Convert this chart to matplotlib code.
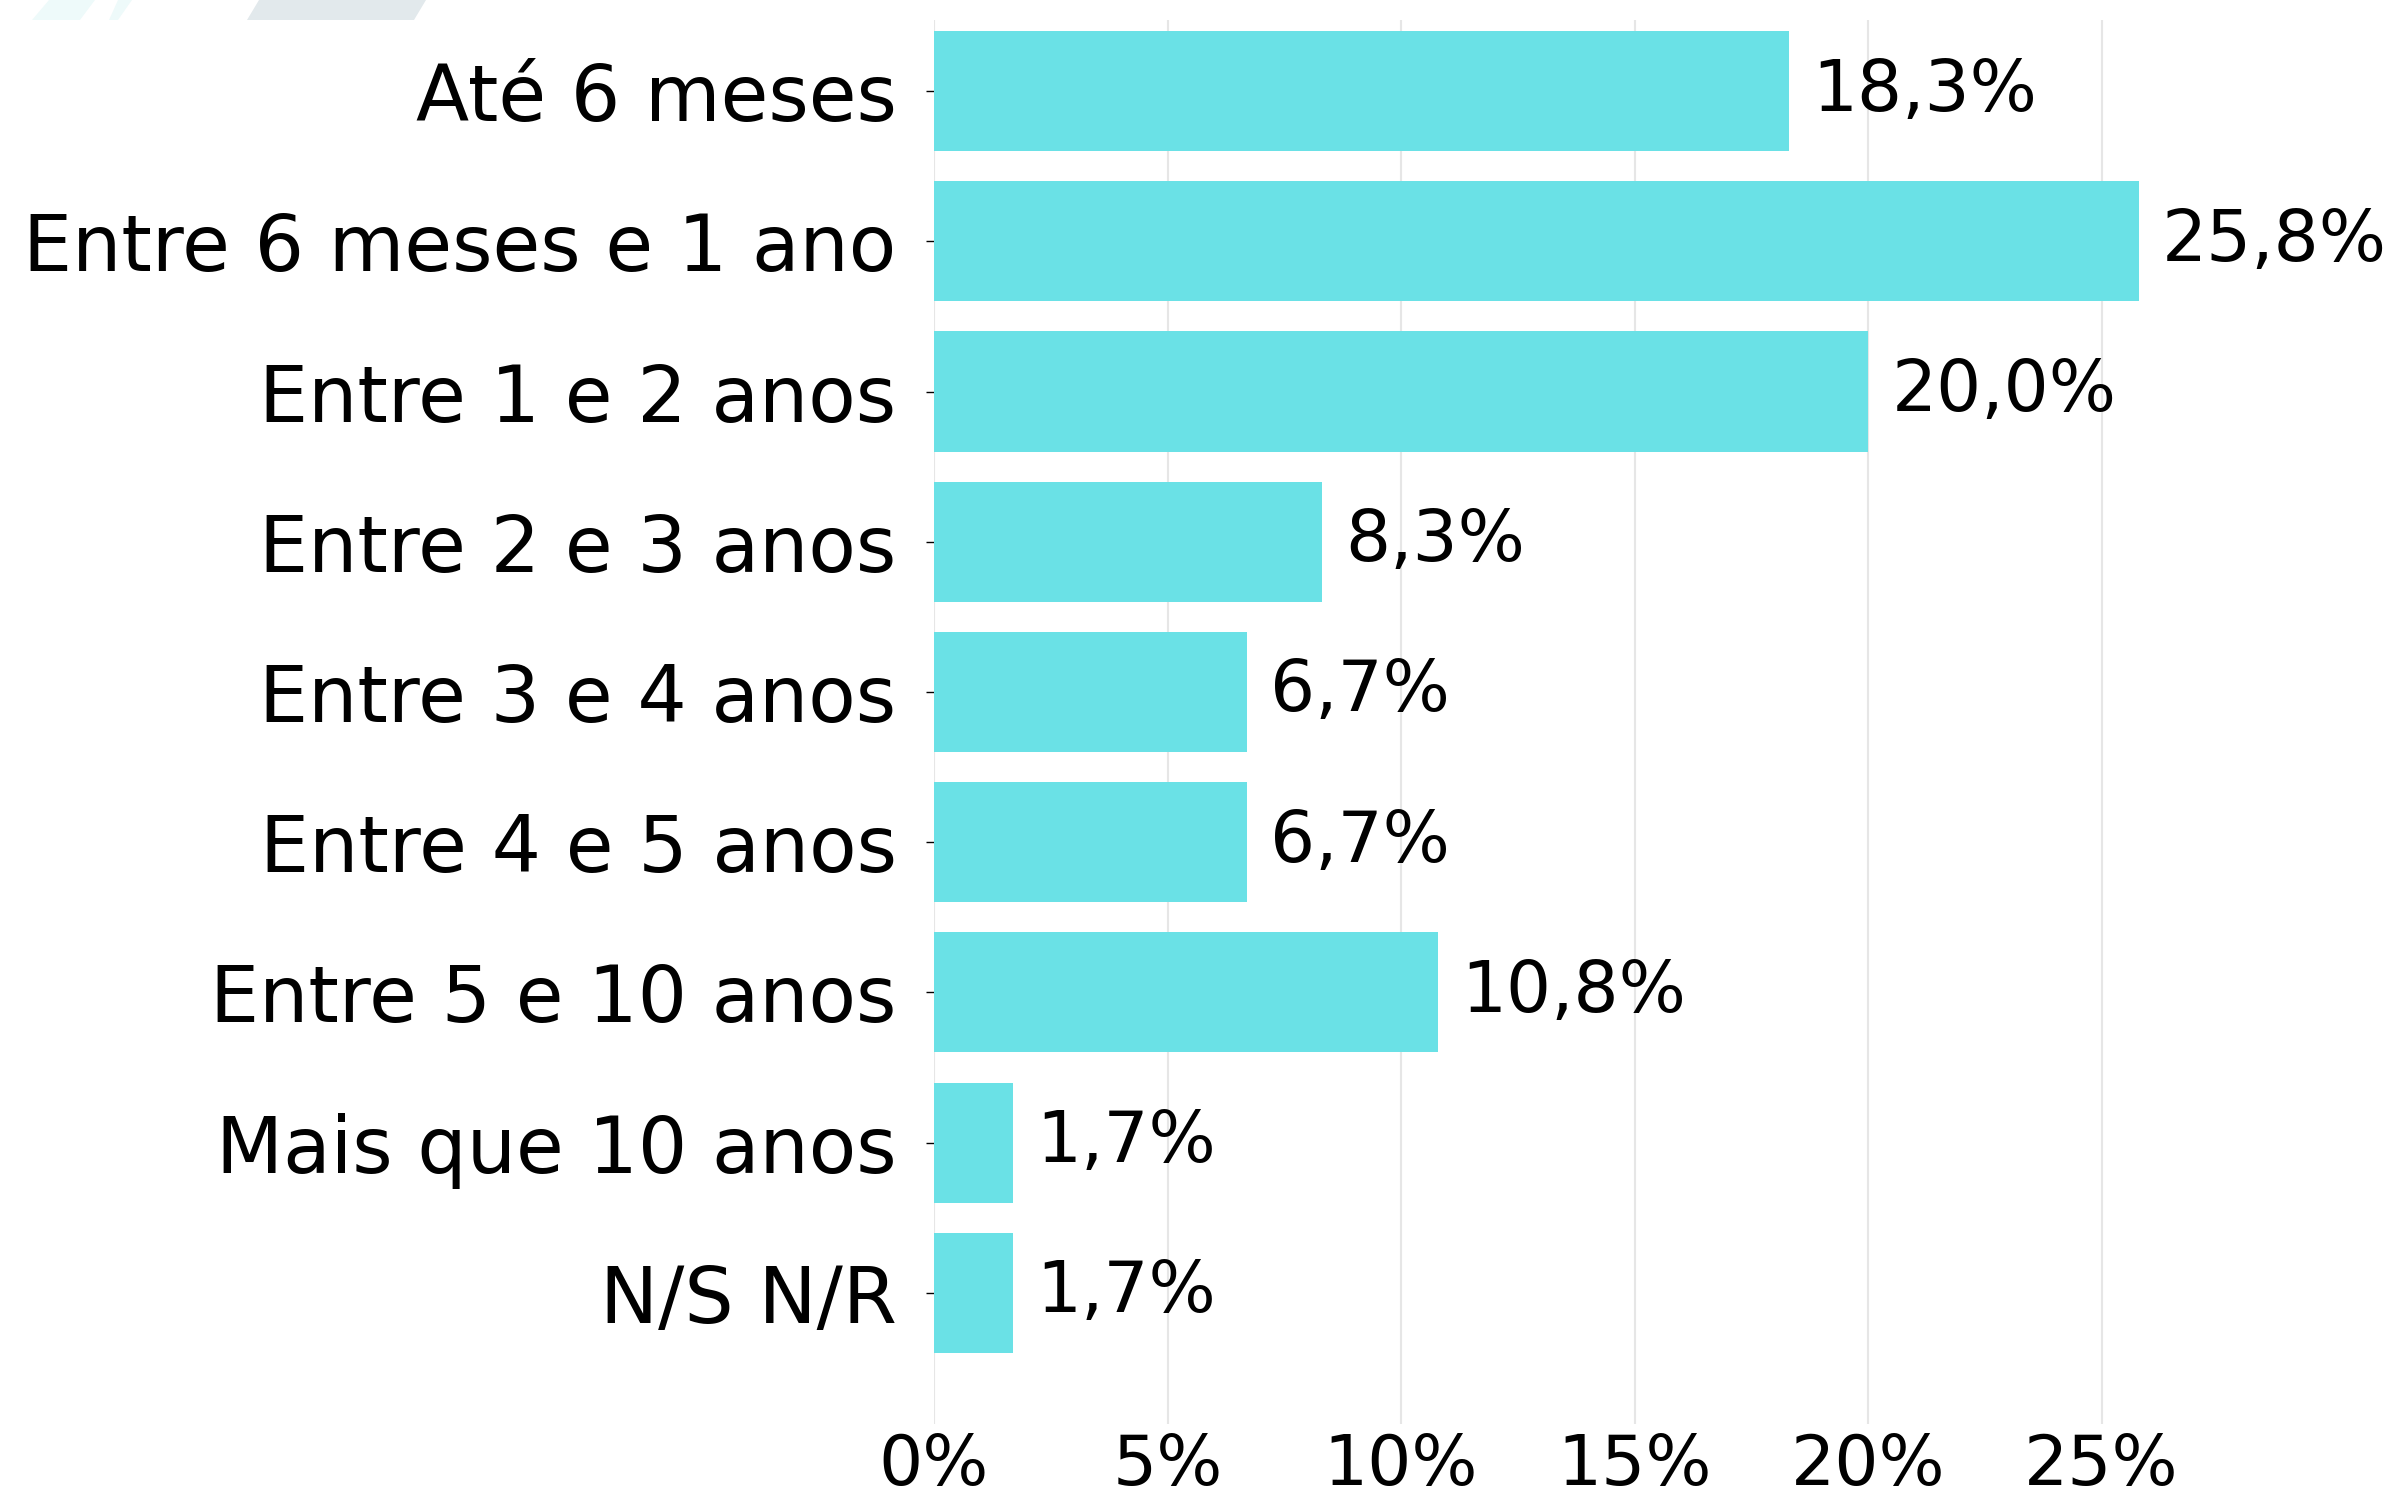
import numpy as np
import matplotlib.pyplot as plt
from matplotlib.patches import Polygon

categorias = ["Até 6 meses", "Entre 6 meses e 1 ano", "Entre 1 e 2 anos",
              "Entre 2 e 3 anos", "Entre 3 e 4 anos", "Entre 4 e 5 anos",
              "Entre 5 e 10 anos", "Mais que 10 anos", "N/S N/R"]
valores = [18.3, 25.8, 20.0, 8.3, 6.7, 6.7, 10.8, 1.7, 1.7]
xticks = [0, 5, 10, 15, 20, 25]

W, H = 2391, 1502
fig = plt.figure(figsize=(W / 100, H / 100), dpi=100)

# faint decoration at the top-left corner
def px(pts):
    return [(x / W, 1 - y / H) for x, y in pts]

for pts, c in [([(32, 20), (80, 20), (95, 0), (49, 0)], '#eefafa'),
               ([(109, 20), (118, 20), (132, 0), (118, 0)], '#eefafa'),
               ([(247, 20), (414, 20), (426, 0), (259, 0)], '#e2e9ec')]:
    fig.patches.append(Polygon(px(pts), closed=True, transform=fig.transFigure,
                               facecolor=c, edgecolor='none'))

ax = fig.add_axes([934 / W, 1 - 1424 / H, (28 * 46.7) / W, 1404 / H])

y = np.arange(len(categorias))
ax.barh(y, valores, height=0.8, color='#6ae1e6', zorder=2)
for yi, v in zip(y, valores):
    ax.text(v + 0.5, yi, f"{v:.1f}%".replace('.', ','), va='center', ha='left',
            fontsize=51, color='black')

ax.set_ylim(8 + 0.873, -0.473)
ax.set_xlim(0, 28)
ax.set_yticks(y)
ax.set_yticklabels(categorias, fontsize=56)
ax.set_xticks(xticks)
ax.set_xticklabels([f"{t}%" for t in xticks], fontsize=50)
ax.tick_params(axis='x', length=0, pad=6)
ax.tick_params(axis='y', length=6, width=1, pad=21)
ax.grid(axis='x', color='#e6e6e6', linewidth=1.5, zorder=0)
for s in ax.spines.values():
    s.set_visible(False)

fig.savefig('out.png', dpi=100)
